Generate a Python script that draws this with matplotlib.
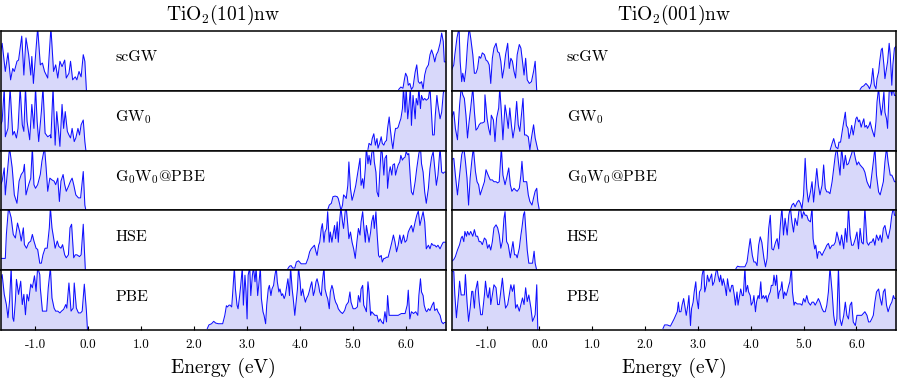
# -*- coding: utf-8 -*-
#%% librerias
import numpy as np
import matplotlib
matplotlib.use('Agg')
import matplotlib.pyplot as plt

plt.rcParams['font.family'] = 'serif'
plt.rcParams['font.serif'] = ['cmr10']
plt.rcParams['mathtext.fontset'] = 'cm'
plt.rcParams['axes.unicode_minus'] = False

#%% datos (DOS en unidades arbitrarias, 1 = alto de la fila)
titulos = [r'TiO$_2$(101)nw', r'TiO$_2$(001)nw']
metodos = ['scGW', r'GW$_0$', r'G$_0$W$_0$@PBE', 'HSE', 'PBE']
ticks_e = [-1.0, 0.0, 1.0, 2.0, 3.0, 4.0, 5.0, 6.0]
ticks_lab = ['-1.0', '0.0', '1.0', '2.0', '3.0', '4.0', '5.0', '6.0']

# ---- TiO2(101)nw
e_101_scgw = [-1.66, -1.62, -1.56, -1.51, -1.46, -1.42, -1.39, -1.34, -1.31, -1.25, -1.21, -1.17, -1.12, -1.08, -1.06,
              -1.03, -0.95, -0.90, -0.86, -0.82, -0.76, -0.70, -0.65, -0.61, -0.57, -0.53, -0.49, -0.44, -0.41, -0.36,
              -0.33, -0.29, -0.24, -0.21, -0.17, -0.13, -0.09, -0.06, -0.03,
              5.86, 5.90, 5.94, 5.97, 5.99, 6.02, 6.04, 6.07, 6.10, 6.13, 6.17, 6.20, 6.23, 6.26, 6.29, 6.32, 6.35,
              6.38, 6.42, 6.45, 6.48, 6.51, 6.54, 6.57, 6.60, 6.64, 6.67, 6.70, 6.72, 6.76]
dos_101_scgw = [0.60, 0.79, 0.32, 0.63, 0.18, 0.37, 0.32, 0.49, 0.51, 0.91, 0.26, 0.88, 0.60, 0.26, 0.57,
                0.12, 1.05, 0.43, 0.46, 0.32, 0.21, 1.05, 0.32, 0.43, 0.21, 0.49, 0.40, 0.51, 0.21, 0.29,
                0.49, 0.18, 0.23, 0.18, 0.32, 0.23, 0.60, 0.49, 0.0,
                0.02, 0.06, 0.04, 0.20, 0.29, 0.23, 0.09, 0.12, 0.02, 0.06, 0.31, 0.43, 0.15, 0.12, 0.15, 0.03, 0.26,
                0.37, 0.43, 0.60, 0.68, 0.60, 0.48, 0.60, 0.65, 0.79, 0.96, 0.82, 0.48, 0.48]

e_101_gw0 = [-1.66, -1.62, -1.58, -1.56, -1.51, -1.47, -1.42, -1.39, -1.35, -1.32, -1.28, -1.24, -1.21, -1.18, -1.15,
             -1.10, -1.06, -1.02, -0.99, -0.96, -0.93, -0.88, -0.85, -0.81, -0.76, -0.71, -0.70, -0.66, -0.62, -0.59,
             -0.56, -0.53, -0.49, -0.46, -0.43, -0.39, -0.36, -0.33, -0.30, -0.26, -0.23, -0.19, -0.16, -0.13, -0.09,
             -0.06, -0.04,
             5.28, 5.30, 5.34, 5.36, 5.39, 5.42, 5.45, 5.47, 5.50, 5.53, 5.55, 5.58, 5.60, 5.63, 5.65, 5.68, 5.70,
             5.73, 5.75, 5.78, 5.80, 5.83, 5.85, 5.88, 5.90, 5.93, 5.95, 5.98, 6.00, 6.03, 6.05, 6.08, 6.10, 6.13,
             6.17, 6.19, 6.22, 6.24, 6.27, 6.29, 6.32, 6.35, 6.38, 6.42, 6.45, 6.48, 6.50, 6.53, 6.55, 6.58, 6.60,
             6.64, 6.67, 6.70, 6.72, 6.76]
dos_101_gw0 = [0.40, 0.49, 1.05, 0.23, 0.37, 1.05, 0.26, 0.32, 0.21, 0.37, 1.05, 0.43, 0.32, 1.05, 0.49,
               0.18, 0.77, 0.37, 1.05, 0.49, 0.15, 0.65, 1.05, 0.29, 0.23, 0.26, 0.21, 1.05, 0.09, 0.65,
               0.37, 0.07, 0.77, 0.37, 0.65, 0.32, 0.26, 0.21, 0.37, 0.15, 0.21, 0.37, 0.26, 0.43, 0.51,
               0.15, 0.0,
               0.02, 0.12, 0.09, 0.20, 0.28, 0.09, 0.20, 0.04, 0.12, 0.23, 0.12, 0.09, 0.14, 0.17, 0.37, 0.56, 0.37,
               0.14, 0.03, 0.26, 0.37, 0.37, 0.39, 0.48, 0.53, 0.70, 1.05, 0.64, 1.05, 0.53, 0.70, 1.05, 0.42, 0.92,
               0.53, 0.87, 0.76, 1.05, 0.70, 0.92, 0.84, 0.87, 0.84, 0.87, 1.05, 0.59, 0.26, 0.26, 0.59, 0.92, 0.76,
               0.53, 0.64, 0.95, 1.05, 1.05]

e_101_g0w0 = [-1.66, -1.62, -1.58, -1.56, -1.52, -1.48, -1.43, -1.39, -1.34, -1.30, -1.26, -1.22, -1.20, -1.17, -1.12,
              -1.08, -1.05, -1.02, -0.99, -0.95, -0.90, -0.87, -0.82, -0.79, -0.76, -0.72, -0.68, -0.64, -0.61, -0.57,
              -0.54, -0.51, -0.47, -0.44, -0.41, -0.37, -0.33, -0.30, -0.27, -0.23, -0.18, -0.14, -0.09, -0.06, -0.04,
              4.52, 4.55, 4.59, 4.62, 4.66, 4.70, 4.72, 4.75, 4.77, 4.80, 4.82, 4.85, 4.87, 4.90, 4.92, 4.95, 4.98,
              5.00, 5.03, 5.05, 5.08, 5.10, 5.13, 5.15, 5.18, 5.20, 5.23, 5.25, 5.28, 5.30, 5.33, 5.35, 5.38, 5.40,
              5.43, 5.45, 5.48, 5.50, 5.53, 5.55, 5.58, 5.60, 5.63, 5.65, 5.68, 5.70, 5.73, 5.75, 5.78, 5.80, 5.83,
              5.85, 5.88, 5.90, 5.93, 5.95, 5.98, 6.00, 6.03, 6.05, 6.08, 6.10, 6.13, 6.17, 6.20, 6.24, 6.27, 6.29,
              6.32, 6.35, 6.38, 6.42, 6.45, 6.48, 6.51, 6.54, 6.57, 6.60, 6.64, 6.67, 6.70, 6.72, 6.76]
dos_101_g0w0 = [0.40, 0.49, 0.71, 0.26, 0.65, 1.05, 0.71, 0.26, 0.12, 0.49, 0.60, 0.65, 0.77, 0.26, 0.43,
                0.54, 1.05, 0.43, 0.37, 0.43, 0.60, 0.82, 1.05, 0.71, 0.32, 0.54, 0.51, 0.49, 0.43, 0.54,
                0.15, 0.49, 0.60, 0.43, 0.32, 0.40, 0.49, 0.54, 0.43, 0.26, 0.21, 0.21, 0.65, 0.09, 0.0,
                0.01, 0.09, 0.12, 0.23, 0.24, 0.23, 0.20, 0.09, 0.0, 0.09, 0.26, 0.23, 0.20, 0.42, 0.81, 0.37, 0.17,
                0.23, 0.34, 0.42, 0.59, 0.70, 0.87, 0.42, 0.53, 0.37, 0.70, 1.05, 0.78, 0.92, 0.76, 0.95, 1.05, 0.81,
                0.64, 0.31, 0.23, 0.59, 1.05, 0.95, 0.59, 0.87, 0.92, 0.37, 0.64, 0.73, 0.59, 0.76, 0.78, 0.59, 0.70,
                0.76, 0.81, 0.92, 0.84, 0.87, 0.89, 0.98, 0.93, 0.95, 0.53, 0.31, 0.26, 0.48, 0.70, 0.95, 1.05, 0.78,
                0.64, 0.31, 0.12, 0.37, 0.70, 0.89, 0.98, 0.70, 0.42, 0.59, 1.05, 0.64, 0.62, 0.64, 0.64]

e_101_hse = [-1.66, -1.56, -1.54, -1.50, -1.45, -1.41, -1.37, -1.33, -1.29, -1.26, -1.22, -1.20, -1.16, -1.12, -1.08,
             -1.05, -1.02, -0.98, -0.95, -0.91, -0.88, -0.85, -0.81, -0.77, -0.73, -0.71, -0.68, -0.64, -0.62, -0.58,
             -0.55, -0.51, -0.48, -0.44, -0.41, -0.37, -0.34, -0.31, -0.27, -0.24, -0.21, -0.16, -0.13, -0.09, -0.07,
             -0.05,
             3.77, 3.80, 3.83, 3.86, 3.90, 3.93, 3.97, 4.02, 4.07, 4.11, 4.15, 4.18, 4.21, 4.24, 4.27, 4.30, 4.32,
             4.35, 4.37, 4.40, 4.42, 4.45, 4.47, 4.50, 4.52, 4.55, 4.57, 4.60, 4.62, 4.65, 4.67, 4.70, 4.72, 4.75,
             4.77, 4.80, 4.82, 4.85, 4.87, 4.90, 4.92, 4.95, 4.98, 5.01, 5.04, 5.07, 5.10, 5.13, 5.15, 5.18, 5.20,
             5.23, 5.25, 5.28, 5.30, 5.33, 5.35, 5.38, 5.40, 5.43, 5.45, 5.48, 5.50, 5.53, 5.55, 5.58, 5.60, 5.63,
             5.66, 5.70, 5.73, 5.76, 5.79, 5.82, 5.85, 5.88, 5.91, 5.95, 5.98, 6.01, 6.04, 6.07, 6.10, 6.13, 6.17,
             6.20, 6.23, 6.26, 6.29, 6.32, 6.35, 6.38, 6.42, 6.45, 6.48, 6.51, 6.54, 6.57, 6.60, 6.64, 6.67, 6.70,
             6.72, 6.76]
dos_101_hse = [0.20, 0.20, 0.60, 1.05, 0.88, 0.60, 0.54, 0.79, 0.65, 0.49, 0.71, 0.43, 0.37, 0.46, 0.49,
               0.60, 0.49, 0.37, 0.35, 0.12, 0.12, 0.26, 0.37, 0.37, 0.71, 1.05, 0.71, 0.49, 0.37, 0.49,
               0.40, 0.37, 0.43, 0.26, 0.21, 0.26, 0.71, 0.77, 0.21, 0.26, 0.26, 0.23, 0.26, 0.77, 0.37,
               0.0,
               0.03, 0.07, 0.08, 0.04, 0.04, 0.14, 0.16, 0.11, 0.11, 0.11, 0.20, 0.31, 0.36, 0.39, 0.42, 0.31, 0.25,
               0.42, 0.47, 0.70, 0.78, 0.47, 0.64, 0.70, 0.98, 0.47, 0.64, 0.47, 0.59, 0.75, 0.53, 0.81, 0.47, 0.87,
               1.05, 0.81, 0.70, 0.98, 1.05, 0.75, 0.53, 0.64, 0.47, 0.36, 0.20, 0.47, 0.70, 0.59, 0.81, 0.98, 0.75,
               0.47, 0.75, 0.59, 0.47, 0.64, 0.81, 0.92, 0.70, 0.98, 0.64, 0.25, 0.22, 0.25, 0.14, 0.20, 0.20, 0.22,
               0.22, 0.36, 0.47, 0.59, 0.47, 0.31, 0.42, 0.59, 0.45, 0.59, 0.47, 0.50, 0.64, 0.70, 0.75, 0.64, 0.81,
               0.92, 0.99, 0.75, 0.87, 0.98, 0.81, 0.36, 0.42, 0.36, 0.45, 0.42, 0.42, 0.39, 0.42, 0.36, 0.42, 0.47,
               0.47, 0.47]

e_101_pbe = [-1.66, -1.62, -1.58, -1.54, -1.51, -1.48, -1.45, -1.42, -1.40, -1.37, -1.35, -1.31, -1.27, -1.24, -1.21,
             -1.18, -1.15, -1.12, -1.08, -1.05, -1.01, -0.98, -0.95, -0.91, -0.90, -0.86, -0.82, -0.78, -0.75, -0.71,
             -0.68, -0.64, -0.61, -0.57, -0.53, -0.50, -0.46, -0.42, -0.40, -0.36, -0.32, -0.28, -0.26, -0.22, -0.18,
             -0.14, -0.11, -0.07, -0.03, -0.01,
             2.25, 2.28, 2.33, 2.37, 2.41, 2.46, 2.50, 2.54, 2.58, 2.61, 2.63, 2.66, 2.68, 2.71, 2.73, 2.76, 2.78,
             2.81, 2.83, 2.86, 2.88, 2.91, 2.93, 2.96, 2.98, 3.00, 3.02, 3.05, 3.07, 3.10, 3.12, 3.15, 3.17, 3.20,
             3.22, 3.25, 3.27, 3.30, 3.32, 3.35, 3.37, 3.40, 3.42, 3.45, 3.47, 3.50, 3.52, 3.55, 3.57, 3.60, 3.62,
             3.65, 3.67, 3.70, 3.72, 3.75, 3.77, 3.80, 3.82, 3.85, 3.87, 3.90, 3.92, 3.95, 3.97, 4.00, 4.02, 4.05,
             4.07, 4.10, 4.12, 4.15, 4.17, 4.20, 4.22, 4.25, 4.27, 4.30, 4.32, 4.35, 4.37, 4.40, 4.42, 4.45, 4.47,
             4.50, 4.52, 4.55, 4.57, 4.60, 4.62, 4.65, 4.67, 4.70, 4.72, 4.76, 4.80, 4.84, 4.87, 4.91, 4.94, 4.96,
             5.00, 5.04, 5.08, 5.10, 5.13, 5.15, 5.18, 5.20, 5.23, 5.25, 5.28, 5.30, 5.33, 5.35, 5.38, 5.41, 5.45,
             5.48, 5.51, 5.54, 5.57, 5.60, 5.63, 5.65, 5.68, 5.73, 5.79, 5.85, 5.91, 5.98, 6.02, 6.04, 6.07, 6.10,
             6.14, 6.18, 6.22, 6.24, 6.27, 6.29, 6.32, 6.34, 6.37, 6.39, 6.42, 6.45, 6.49, 6.52, 6.54, 6.58, 6.60,
             6.64, 6.67, 6.70, 6.72, 6.76]
dos_101_pbe = [0.82, 0.93, 0.60, 0.43, 0.21, 0.49, 1.05, 0.21, 0.15, 0.49, 0.85, 0.60, 0.82, 0.43, 0.60,
               0.26, 0.60, 0.49, 0.77, 0.71, 0.91, 0.65, 1.05, 0.93, 0.71, 0.32, 0.32, 0.32, 0.71, 1.05,
               0.54, 0.37, 0.32, 0.32, 0.29, 0.32, 0.35, 0.43, 0.37, 0.79, 0.32, 0.37, 0.79, 0.37, 0.29,
               0.29, 0.32, 0.77, 0.32, 0.0,
               0.03, 0.09, 0.11, 0.15, 0.12, 0.11, 0.11, 0.11, 0.25, 0.41, 0.39, 0.42, 0.42, 0.39, 0.64, 1.05, 0.69,
               0.42, 0.36, 0.58, 0.75, 1.05, 0.42, 0.92, 0.64, 0.19, 0.92, 1.05, 0.58, 0.92, 1.05, 0.81, 1.05, 0.58,
               0.75, 1.05, 0.53, 0.31, 0.25, 0.11, 0.42, 0.69, 0.75, 0.58, 0.69, 0.75, 0.89, 1.05, 0.81, 0.64, 0.69,
               0.58, 0.61, 0.53, 0.58, 0.75, 0.86, 0.58, 1.05, 0.69, 0.53, 0.25, 0.42, 0.69, 1.05, 0.81, 0.58, 0.69,
               0.58, 0.47, 0.53, 0.58, 0.64, 0.75, 0.81, 0.58, 0.64, 0.81, 0.86, 0.75, 0.64, 0.58, 0.81, 1.05, 0.69,
               0.58, 0.53, 0.36, 0.64, 0.75, 0.69, 0.53, 0.47, 0.42, 0.36, 0.31, 0.28, 0.33, 0.42, 0.47, 0.64, 0.47,
               0.36, 0.36, 0.39, 0.58, 0.47, 0.69, 0.75, 0.42, 0.36, 0.31, 0.81, 0.64, 0.25, 0.31, 0.28, 0.25, 0.25,
               0.14, 0.19, 0.14, 0.11, 0.31, 0.14, 0.58, 0.25, 0.25, 0.25, 0.25, 0.28, 0.28, 0.42, 0.67, 0.19, 0.31,
               0.28, 0.31, 0.25, 0.58, 0.86, 0.64, 0.58, 0.42, 0.33, 0.31, 0.36, 0.33, 0.42, 0.47, 0.33, 0.36, 0.31,
               0.25, 0.14, 0.11, 0.13, 0.13]

# ---- TiO2(001)nw
e_001_scgw = [-1.66, -1.62, -1.60, -1.56, -1.52, -1.50, -1.47, -1.45, -1.42, -1.39, -1.36, -1.33, -1.30, -1.26, -1.23,
              -1.20, -1.17, -1.14, -1.11, -1.08, -1.04, -1.01, -0.98, -0.95, -0.92, -0.89, -0.86, -0.82, -0.79, -0.76,
              -0.73, -0.70, -0.67, -0.64, -0.60, -0.57, -0.54, -0.51, -0.48, -0.45, -0.42, -0.38, -0.35, -0.32, -0.29,
              -0.26, -0.23, -0.19, -0.15, -0.11, -0.08, -0.05,
              6.07, 6.10, 6.14, 6.18, 6.22, 6.25, 6.28, 6.31, 6.34, 6.37, 6.39, 6.42, 6.44, 6.47, 6.49, 6.52, 6.54,
              6.57, 6.59, 6.62, 6.64, 6.67, 6.69, 6.72, 6.76]
dos_001_scgw = [0.35, 0.43, 0.60, 0.88, 1.05, 0.49, 0.15, 0.29, 0.15, 0.37, 0.77, 1.05, 0.88, 0.60, 0.29,
                0.29, 0.37, 0.57, 0.54, 0.63, 0.60, 0.51, 0.49, 0.43, 0.12, 0.54, 0.71, 0.79, 0.65, 0.63,
                0.49, 0.21, 0.37, 0.60, 0.79, 0.37, 0.54, 0.49, 0.32, 0.21, 0.60, 0.77, 0.71, 0.49, 0.26,
                0.54, 0.18, 0.12, 0.15, 0.32, 0.49, 0.0,
                0.02, 0.06, 0.08, 0.12, 0.08, 0.03, 0.12, 0.37, 0.09, 0.03, 0.20, 0.31, 0.48, 0.68, 0.71, 0.43, 0.20,
                0.37, 0.48, 0.79, 0.60, 0.09, 0.43, 0.71, 0.75]

e_001_gw0 = [-1.66, -1.62, -1.59, -1.55, -1.51, -1.48, -1.45, -1.42, -1.39, -1.36, -1.33, -1.30, -1.26, -1.23, -1.20,
             -1.17, -1.14, -1.11, -1.08, -1.04, -1.03, -0.99, -0.96, -0.93, -0.91, -0.87, -0.84, -0.81, -0.77, -0.75,
             -0.72, -0.69, -0.65, -0.62, -0.59, -0.56, -0.53, -0.50, -0.47, -0.43, -0.40, -0.37, -0.34, -0.31, -0.28,
             -0.25, -0.21, -0.18, -0.15, -0.11, -0.08, -0.05, -0.03, -0.01,
             5.50, 5.54, 5.57, 5.61, 5.65, 5.67, 5.70, 5.74, 5.76, 5.79, 5.81, 5.84, 5.86, 5.89, 5.91, 5.94, 5.96,
             5.99, 6.01, 6.04, 6.06, 6.09, 6.11, 6.14, 6.16, 6.19, 6.21, 6.24, 6.26, 6.29, 6.31, 6.34, 6.37, 6.39,
             6.42, 6.44, 6.47, 6.49, 6.52, 6.54, 6.57, 6.59, 6.62, 6.64, 6.67, 6.69, 6.72, 6.76]
dos_001_gw0 = [0.55, 0.65, 0.37, 0.18, 0.76, 1.05, 0.93, 0.87, 0.59, 0.21, 0.48, 0.71, 1.05, 0.65, 0.34,
               0.37, 0.43, 0.46, 0.46, 0.48, 0.93, 0.54, 0.37, 0.26, 0.59, 0.51, 0.15, 0.54, 0.71, 1.05,
               0.65, 0.18, 0.76, 0.59, 0.37, 0.71, 0.43, 0.21, 0.37, 0.82, 0.43, 0.32, 0.59, 0.87, 0.26,
               0.26, 0.23, 0.01, 0.21, 0.43, 0.21, 0.09, 0.01, 0.0,
               0.0, 0.12, 0.20, 0.06, 0.03, 0.14, 0.14, 0.37, 0.48, 0.64, 0.42, 0.37, 0.20, 0.31, 0.42, 0.26, 0.37,
               0.53, 0.56, 0.48, 0.51, 0.39, 0.45, 0.53, 0.39, 0.42, 0.37, 0.42, 0.48, 0.37, 0.31, 0.23, 0.48, 0.81,
               1.05, 0.81, 0.59, 0.70, 0.98, 0.64, 0.53, 0.37, 0.98, 1.05, 0.92, 1.05, 0.92, 0.92]

e_001_g0w0 = [-1.66, -1.62, -1.59, -1.55, -1.51, -1.47, -1.43, -1.40, -1.37, -1.34, -1.31, -1.28, -1.25, -1.21, -1.18,
              -1.15, -1.12, -1.08, -1.04, -1.01, -0.97, -0.93, -0.89, -0.86, -0.82, -0.79, -0.76, -0.72, -0.69, -0.65,
              -0.62, -0.58, -0.55, -0.52, -0.48, -0.45, -0.42, -0.38, -0.35, -0.33, -0.30, -0.27, -0.24, -0.21, -0.18,
              -0.14, -0.11, -0.08, -0.05, -0.03, 0.0,
              4.75, 4.78, 4.81, 4.84, 4.88, 4.91, 4.94, 4.97, 5.00, 5.03, 5.06, 5.09, 5.13, 5.16, 5.19, 5.22, 5.25,
              5.28, 5.31, 5.35, 5.38, 5.41, 5.44, 5.47, 5.50, 5.54, 5.57, 5.60, 5.63, 5.66, 5.69, 5.72, 5.76, 5.79,
              5.82, 5.85, 5.88, 5.91, 5.94, 5.98, 6.01, 6.04, 6.07, 6.10, 6.13, 6.16, 6.20, 6.23, 6.26, 6.29, 6.32,
              6.35, 6.38, 6.42, 6.45, 6.48, 6.51, 6.54, 6.57, 6.60, 6.64, 6.67, 6.70, 6.72, 6.76]
dos_001_g0w0 = [0.85, 0.87, 0.59, 0.26, 0.59, 0.93, 1.05, 0.82, 0.54, 0.09, 0.54, 0.82, 1.05, 0.65, 0.48,
                0.43, 0.26, 0.37, 0.48, 0.68, 0.59, 0.51, 0.51, 0.48, 0.48, 0.46, 0.48, 1.05, 0.59, 0.43,
                0.54, 0.71, 0.43, 0.32, 0.37, 0.34, 0.32, 0.37, 0.59, 0.82, 0.48, 0.48, 0.48, 0.26, 0.15,
                0.09, 0.21, 0.32, 0.37, 0.15, 0.0,
                0.01, 0.09, 0.12, 0.06, 0.14, 0.17, 0.12, 0.03, 0.26, 0.87, 0.37, 0.14, 0.31, 0.48, 0.14, 0.42, 0.70,
                0.42, 0.26, 0.42, 0.76, 0.37, 0.31, 0.31, 0.28, 0.48, 0.70, 0.92, 1.05, 0.81, 0.59, 1.05, 0.70, 0.92,
                0.76, 0.78, 0.87, 0.95, 1.05, 0.87, 0.76, 0.81, 0.76, 0.73, 0.70, 0.64, 0.48, 0.42, 0.37, 0.59, 0.81,
                1.05, 0.59, 0.31, 0.26, 0.37, 0.48, 0.81, 1.05, 0.81, 0.59, 0.59, 0.53, 0.48, 0.48]

e_001_hse = [-1.66, -1.62, -1.59, -1.55, -1.51, -1.48, -1.46, -1.43, -1.41, -1.38, -1.36, -1.33, -1.30, -1.26, -1.23,
             -1.20, -1.17, -1.14, -1.11, -1.08, -1.04, -1.01, -0.98, -0.95, -0.92, -0.89, -0.86, -0.82, -0.79, -0.76,
             -0.73, -0.70, -0.67, -0.65, -0.62, -0.59, -0.55, -0.53, -0.50, -0.47, -0.44, -0.42, -0.38, -0.35, -0.33,
             -0.30, -0.28, -0.25, -0.23, -0.20, -0.16, -0.13, -0.10, -0.08, -0.05,
             3.72, 3.75, 3.79, 3.84, 3.89, 3.93, 3.96, 3.99, 4.03, 4.06, 4.09, 4.12, 4.15, 4.18, 4.21, 4.25, 4.28,
             4.31, 4.34, 4.37, 4.40, 4.43, 4.47, 4.50, 4.53, 4.56, 4.59, 4.62, 4.65, 4.69, 4.72, 4.75, 4.78, 4.81,
             4.84, 4.88, 4.91, 4.94, 4.97, 5.00, 5.03, 5.06, 5.09, 5.13, 5.16, 5.18, 5.21, 5.23, 5.26, 5.28, 5.31,
             5.35, 5.38, 5.41, 5.44, 5.47, 5.50, 5.54, 5.57, 5.60, 5.63, 5.66, 5.69, 5.72, 5.76, 5.79, 5.82, 5.85,
             5.88, 5.91, 5.94, 5.98, 6.01, 6.04, 6.07, 6.10, 6.13, 6.16, 6.20, 6.23, 6.26, 6.29, 6.32, 6.35, 6.38,
             6.42, 6.45, 6.48, 6.51, 6.54, 6.57, 6.60, 6.64, 6.67, 6.70, 6.72, 6.76]
dos_001_hse = [0.15, 0.18, 0.23, 0.34, 0.43, 0.54, 0.57, 0.48, 0.65, 0.57, 0.65, 0.59, 0.65, 0.57, 0.68,
               0.57, 0.57, 0.48, 0.48, 0.43, 0.54, 0.51, 0.37, 0.43, 0.34, 0.48, 0.71, 0.76, 0.71, 0.59,
               0.37, 0.48, 0.87, 0.98, 0.48, 0.43, 0.21, 0.32, 0.48, 0.26, 0.26, 0.21, 0.37, 0.59, 0.71,
               0.93, 0.98, 0.59, 0.34, 0.12, 0.12, 0.12, 0.32, 0.12, 0.0,
               0.03, 0.07, 0.06, 0.06, 0.06, 0.14, 0.34, 0.53, 0.25, 0.14, 0.14, 0.08, 0.42, 0.56, 0.47, 0.20, 0.06,
               0.20, 0.70, 0.92, 0.36, 0.34, 0.47, 0.53, 0.36, 0.75, 1.05, 0.59, 0.87, 0.59, 0.92, 1.05, 0.81, 0.64,
               0.87, 0.75, 0.98, 1.05, 0.87, 0.98, 0.92, 0.92, 0.84, 0.81, 1.05, 0.53, 0.36, 0.42, 0.20, 0.31, 0.31,
               0.25, 0.31, 0.36, 0.42, 0.45, 0.36, 0.42, 0.42, 0.47, 0.64, 0.53, 0.42, 0.59, 0.36, 0.70, 0.47, 1.05,
               0.59, 0.42, 0.42, 0.53, 0.64, 0.36, 0.70, 0.47, 0.44, 1.05, 0.47, 0.42, 0.47, 0.47, 0.53, 0.42, 0.59,
               0.50, 0.59, 0.47, 0.70, 0.75, 0.61, 0.53, 0.70, 0.92, 1.05, 0.92, 0.92]

e_001_pbe = [-1.66, -1.62, -1.60, -1.57, -1.53, -1.51, -1.48, -1.45, -1.42, -1.40, -1.37, -1.34, -1.31, -1.28, -1.26,
             -1.23, -1.21, -1.17, -1.14, -1.11, -1.08, -1.04, -1.02, -0.99, -0.97, -0.94, -0.92, -0.89, -0.86, -0.82,
             -0.79, -0.76, -0.73, -0.70, -0.67, -0.64, -0.60, -0.57, -0.54, -0.51, -0.48, -0.45, -0.42, -0.38, -0.35,
             -0.32, -0.29, -0.26, -0.23, -0.20, -0.16, -0.13, -0.10, -0.08, -0.05, -0.03,
             2.34, 2.37, 2.42, 2.48, 2.52, 2.55, 2.58, 2.61, 2.63, 2.65, 2.68, 2.70, 2.73, 2.76, 2.78, 2.81, 2.83,
             2.86, 2.88, 2.91, 2.93, 2.96, 2.98, 3.01, 3.03, 3.06, 3.08, 3.11, 3.13, 3.16, 3.18, 3.21, 3.23, 3.26,
             3.28, 3.31, 3.33, 3.36, 3.38, 3.41, 3.43, 3.46, 3.48, 3.51, 3.54, 3.56, 3.59, 3.61, 3.64, 3.66, 3.69,
             3.71, 3.74, 3.76, 3.79, 3.81, 3.84, 3.86, 3.89, 3.91, 3.94, 3.96, 3.99, 4.01, 4.04, 4.06, 4.09, 4.11,
             4.14, 4.16, 4.19, 4.21, 4.24, 4.26, 4.29, 4.31, 4.34, 4.37, 4.39, 4.42, 4.44, 4.47, 4.49, 4.52, 4.54,
             4.57, 4.59, 4.62, 4.64, 4.67, 4.69, 4.72, 4.74, 4.77, 4.79, 4.82, 4.84, 4.88, 4.91, 4.94, 4.97, 5.00,
             5.03, 5.06, 5.09, 5.13, 5.16, 5.19, 5.22, 5.25, 5.28, 5.31, 5.35, 5.38, 5.41, 5.44, 5.47, 5.50, 5.54,
             5.57, 5.60, 5.63, 5.66, 5.69, 5.72, 5.76, 5.79, 5.82, 5.85, 5.88, 5.91, 5.94, 5.98, 6.01, 6.04, 6.07,
             6.10, 6.13, 6.16, 6.20, 6.23, 6.26, 6.29, 6.32, 6.35, 6.38, 6.42, 6.45, 6.48, 6.51, 6.54, 6.57, 6.60,
             6.64, 6.67, 6.70, 6.72, 6.76]
dos_001_pbe = [0.98, 0.98, 0.59, 0.21, 0.59, 0.82, 0.59, 0.59, 0.59, 0.93, 0.48, 0.15, 0.37, 0.65, 0.65,
               0.37, 0.65, 0.82, 0.48, 0.26, 0.26, 0.59, 0.82, 0.59, 0.54, 0.71, 0.43, 0.59, 0.76, 0.71,
               0.43, 0.43, 0.65, 0.87, 0.59, 0.37, 0.43, 0.59, 0.76, 0.65, 0.76, 0.37, 0.43, 0.32, 0.43,
               0.54, 0.43, 0.71, 0.48, 0.59, 0.37, 0.15, 0.21, 0.26, 0.76, 0.0,
               0.03, 0.09, 0.09, 0.07, 0.14, 0.19, 0.25, 0.31, 0.47, 0.31, 0.31, 0.42, 0.53, 0.36, 0.25, 0.42, 0.58,
               0.08, 0.36, 0.47, 0.64, 0.81, 0.53, 0.36, 0.64, 0.69, 0.92, 1.05, 0.64, 0.75, 0.92, 0.81, 0.86, 0.94,
               0.75, 0.81, 0.92, 1.05, 0.92, 0.81, 0.92, 0.75, 0.86, 0.75, 0.58, 0.86, 0.69, 0.64, 0.75, 0.75, 0.58,
               0.42, 0.64, 0.42, 0.58, 0.69, 0.58, 0.58, 1.05, 0.64, 0.75, 0.64, 0.58, 0.42, 0.47, 0.58, 0.31, 0.47,
               0.58, 0.53, 0.81, 0.53, 0.58, 0.53, 0.58, 0.47, 0.58, 0.64, 0.75, 0.75, 0.92, 0.75, 0.92, 0.53, 0.64,
               0.69, 0.81, 0.53, 0.64, 0.58, 0.64, 0.75, 0.81, 1.05, 0.64, 0.42, 0.47, 0.44, 0.44, 0.44, 0.42, 0.53,
               0.47, 0.58, 0.47, 0.42, 0.47, 0.47, 0.42, 0.47, 0.53, 0.47, 0.36, 0.31, 0.31, 0.42, 0.64, 1.05, 0.64,
               0.25, 0.08, 0.19, 1.05, 0.19, 0.08, 0.25, 0.47, 0.25, 0.19, 0.42, 0.47, 0.14, 0.08, 0.25, 0.25, 0.25,
               0.25, 0.28, 0.31, 0.25, 0.14, 0.14, 0.19, 0.25, 0.47, 0.64, 0.69, 0.53, 0.42, 0.64, 0.69, 0.42, 0.31,
               0.42, 0.47, 0.58, 0.53, 0.53]

paneles = [
    [(e_101_scgw, dos_101_scgw), (e_101_gw0, dos_101_gw0), (e_101_g0w0, dos_101_g0w0),
     (e_101_hse, dos_101_hse), (e_101_pbe, dos_101_pbe)],
    [(e_001_scgw, dos_001_scgw), (e_001_gw0, dos_001_gw0), (e_001_g0w0, dos_001_g0w0),
     (e_001_hse, dos_001_hse), (e_001_pbe, dos_001_pbe)],
]

#%% figura
color_linea = '#1010ff'
color_relleno = '#d8d8fa'

fig = plt.figure(figsize=(8.99, 3.82), dpi=100)
izq = [0.0006, 0.503]
der = [0.496, 0.9967]
arriba, abajo = 0.9196, 0.1353
alto = (arriba - abajo) / 5

for p, filas in enumerate(paneles):
    for k, (ee, dd) in enumerate(filas):
        ax = fig.add_axes([izq[p], arriba - (k + 1) * alto, der[p] - izq[p], alto])
        ee = np.asarray(ee)
        dd = np.asarray(dd)
        # banda de valencia y banda de conduccion por separado (sin linea en el gap)
        corte = np.argmax(np.diff(ee)) + 1
        for seg in (slice(0, corte), slice(corte, None)):
            ax.fill_between(ee[seg], dd[seg], 0, color=color_relleno, lw=0)
            ax.plot(ee[seg], dd[seg], color=color_linea, lw=0.75)
        ax.set_xlim(-1.65, 6.75)
        ax.set_ylim(0, 1)
        ax.set_yticks([])
        for s in ax.spines.values():
            s.set_linewidth(1.1)
        ax.text(0.258, 0.56, metodos[k], transform=ax.transAxes, va='center', ha='left', fontsize=11.5)
        if k == 0:
            ax.set_title(titulos[p], fontsize=14, pad=8)
        if k == 4:
            ax.set_xticks(ticks_e)
            ax.set_xticklabels(ticks_lab, fontsize=9.5)
            ax.tick_params(axis='x', direction='in', length=3, width=0.8, pad=6)
            ax.set_xlabel('Energy (eV)', fontsize=14, labelpad=5)
        else:
            ax.set_xticks([])

fig.savefig('out.png', dpi=100)
